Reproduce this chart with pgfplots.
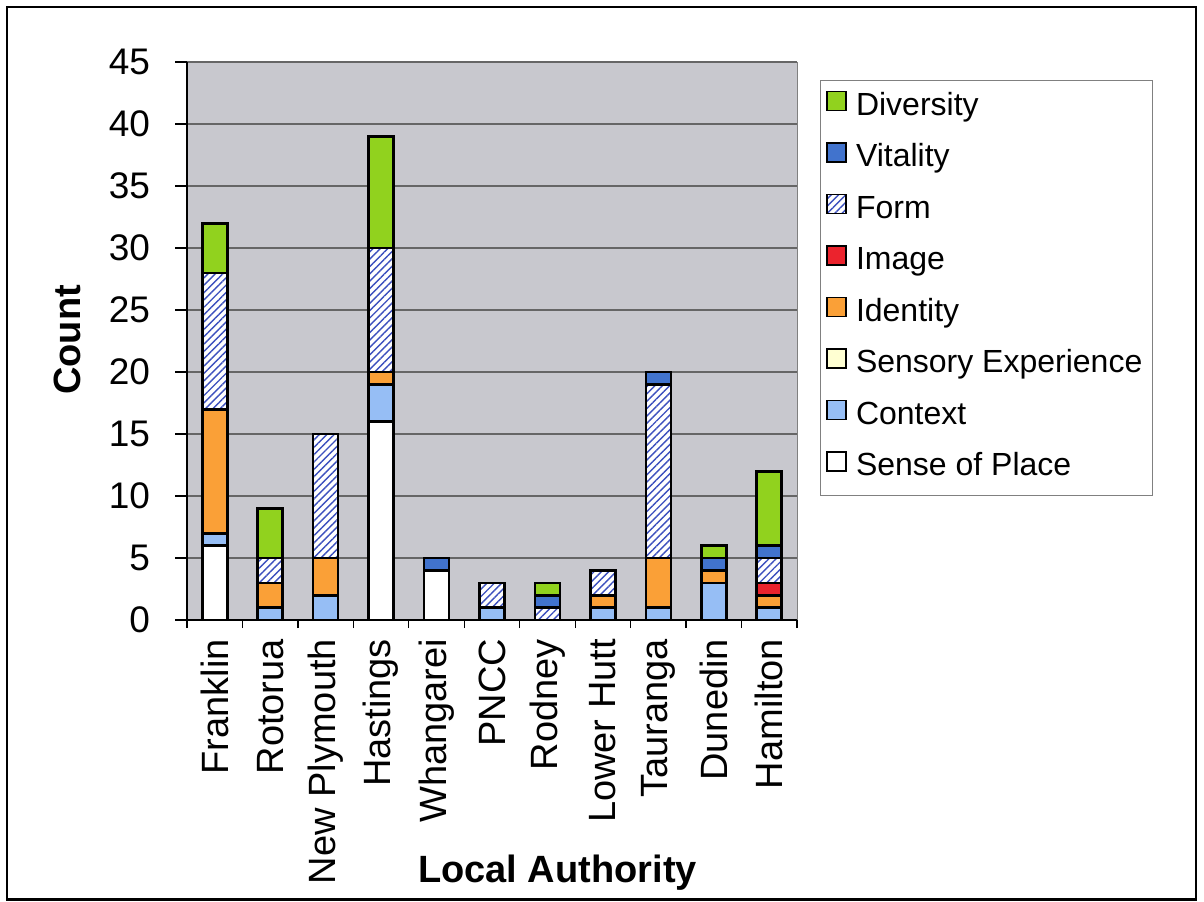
\documentclass[border=0pt]{standalone}
\usepackage{fontspec}
\setmainfont{Liberation Sans}
\usepackage{pgfplots}
\pgfplotsset{compat=1.18}
\usetikzlibrary{patterns.meta}
\definecolor{divgreen}{RGB}{145,210,30}
\definecolor{vitblue}{RGB}{65,115,205}
\definecolor{formline}{RGB}{60,80,190}
\definecolor{imgred}{RGB}{235,35,45}
\definecolor{idorange}{RGB}{250,160,55}
\definecolor{sensyellow}{RGB}{255,255,210}
\definecolor{ctxblue}{RGB}{150,190,245}
\definecolor{plotbg}{RGB}{200,200,206}
\begin{document}
\begin{tikzpicture}
\useasboundingbox (0,0) rectangle (602pt,450.5pt);
\draw[line width=1.2pt] (3.5pt,0.8pt) rectangle (598pt,447pt);
\begin{axis}[
  at={(93.5pt,140.5pt)}, anchor=south west,
  scale only axis, width=305pt, height=279pt,
  xmin=-0.5, xmax=10.5, ymin=0, ymax=45,
  ybar stacked, bar width=12.5pt,
  /pgf/number format/assume math mode=true,
  ytick={0,5,...,45},
  xtick={0,...,10},
  xticklabels={Franklin,Rotorua,New Plymouth,Hastings,Whangarei,PNCC,Rodney,Lower Hutt,Tauranga,Dunedin,Hamilton},
  x tick label style={rotate=90, anchor=east, font=\fontsize{19}{22}\selectfont},
  y tick label style={font=\fontsize{18.5}{21}\selectfont, xshift=-9pt},
  major x tick style={draw=none},
  minor xtick={-0.5,0.5,...,10.5},
  major tick length=6pt, minor tick length=4pt,
  tick align=outside,
  tick style={black, line width=0.6pt},
  ymajorgrids, grid style={black!60, line width=0.6pt},
  axis lines*=left,
  axis line style={-, black, line width=0.8pt},
  every outer x axis line/.append style={-},
  every outer y axis line/.append style={-},
  axis background/.style={fill=plotbg, draw=gray},
  every axis plot/.append style={draw=black, line width=1.3pt},
  legend image code/.code={\draw[#1, line width=0.8pt] (0pt,-1.5pt) rectangle (9.5pt,8pt);},
  reverse legend,
  legend style={at={(1.0377,0.9677)}, anchor=north west, draw=gray, fill=white,
    font=\fontsize{16}{19}\selectfont, inner xsep=3pt, inner ysep=4pt,
    nodes={inner sep=2pt, text height=11.5pt, text depth=3.5pt},
    row sep=6.75pt, column sep=2.5pt},
  legend cell align=left,
]
\addplot[fill=white] coordinates {(0,6)(1,0)(2,0)(3,16)(4,4)(5,0)(6,0)(7,0)(8,0)(9,0)(10,0)};
\addplot[fill=ctxblue] coordinates {(0,1)(1,1)(2,2)(3,3)(4,0)(5,1)(6,0)(7,1)(8,1)(9,3)(10,1)};
\addplot[fill=sensyellow] coordinates {(0,0)(1,0)(2,0)(3,0)(4,0)(5,0)(6,0)(7,0)(8,0)(9,0)(10,0)};
\addplot[fill=idorange] coordinates {(0,10)(1,2)(2,3)(3,1)(4,0)(5,0)(6,0)(7,1)(8,4)(9,1)(10,1)};
\addplot[fill=imgred] coordinates {(0,0)(1,0)(2,0)(3,0)(4,0)(5,0)(6,0)(7,0)(8,0)(9,0)(10,1)};
\addplot[fill=white, postaction={pattern={Lines[angle=45, distance=2.6pt, line width=0.7pt]}, pattern color=formline}] coordinates {(0,11)(1,2)(2,10)(3,10)(4,0)(5,2)(6,1)(7,2)(8,14)(9,0)(10,2)};
\addplot[fill=vitblue] coordinates {(0,0)(1,0)(2,0)(3,0)(4,1)(5,0)(6,1)(7,0)(8,1)(9,1)(10,1)};
\addplot[fill=divgreen] coordinates {(0,4)(1,4)(2,0)(3,9)(4,0)(5,0)(6,1)(7,0)(8,0)(9,1)(10,6)};
\legend{Sense of Place,Context,Sensory Experience,Identity,Image,Form,Vitality,Diversity}
\end{axis}
\node[rotate=90, anchor=base, font=\bfseries\fontsize{19}{22}\selectfont] at (40pt,280.5pt) {Count};
\node[anchor=base, font=\bfseries\fontsize{19}{22}\selectfont] at (278.75pt,9.5pt) {Local Authority};
\end{tikzpicture}
\end{document}
